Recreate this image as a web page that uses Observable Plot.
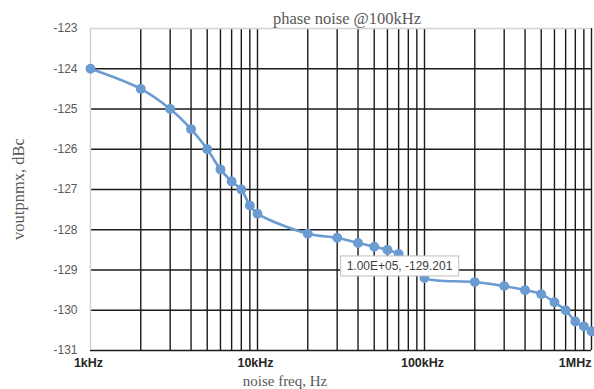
<!DOCTYPE html>
<html>
<head>
<meta charset="utf-8">
<script src="https://cdn.jsdelivr.net/npm/d3@7"></script>
<script src="https://cdn.jsdelivr.net/npm/@observablehq/plot@0.6"></script>
<style>
  html, body { margin: 0; padding: 0; background: #fff; }
  #chart { width: 594px; height: 389px; }
</style>
</head>
<body>
<div id="chart"></div>
<script>
// ---- data ----
const freqs = [1e3, 2e3, 3e3, 4e3, 5e3, 6e3, 7e3, 8e3, 9e3, 1e4,
               2e4, 3e4, 4e4, 5e4, 6e4, 7e4, 8e4, 9e4, 1e5,
               2e5, 3e5, 4e5, 5e5, 6e5, 7e5, 8e5, 9e5, 1e6];
const noise = [-124.0, -124.5, -125.0, -125.5, -126.0, -126.5, -126.8, -127.0, -127.4, -127.6,
               -128.1, -128.2, -128.33, -128.42, -128.5, -128.6, -128.8, -129.0, -129.201,
               -129.3, -129.4, -129.5, -129.6, -129.8, -130.0, -130.28, -130.4, -130.52];
const yTicks = [-131, -130, -129, -128, -127, -126, -125, -124, -123];
const xGrid = [2e3, 3e3, 4e3, 5e3, 6e3, 7e3, 8e3, 9e3, 1e4,
               2e4, 3e4, 4e4, 5e4, 6e4, 7e4, 8e4, 9e4, 1e5,
               2e5, 3e5, 4e5, 5e5, 6e5, 7e5, 8e5, 9e5, 1e6];
const xTickValues = [1e3, 1e4, 1e5];
const xTickLabels = ["1kHz", "10kHz", "100kHz"];
const xLastTick = [1e6];
const xLastLabel = ["1MHz"];
const annotation = [{x: 1e5, y: -129.201, label: "1.00E+05, -129.201"}];
const title = "phase noise @100kHz";
const xLabel = "noise freq, Hz";
const yLabel = "voutpnmx, dBc";

const data = freqs.map((f, i) => ({f, v: noise[i]}));
const lineColor = "#6a9bd1";
const gridColor = "#1a1a1a";
const serif = "'Liberation Serif', 'DejaVu Serif', serif";
const sans = "'Liberation Sans', Arial, sans-serif";

const plot = Plot.plot({
  width: 594,
  height: 389,
  marginLeft: 90,
  marginRight: 3,
  marginTop: 28,
  marginBottom: 39,
  style: {fontFamily: sans, background: "#fff", overflow: "visible"},
  x: {type: "log", domain: [1e3, 1e6]},
  y: {domain: [-131, -123]},
  marks: [
    Plot.ruleY(yTicks.filter(d => d < -123), {stroke: gridColor, strokeWidth: 1.4}),
    Plot.ruleX(xGrid, {y1: -131, y2: -123, stroke: gridColor, strokeWidth: 1.4}),
    Plot.ruleY([-123], {stroke: "#d4d4d4", strokeWidth: 1.4}),
    Plot.ruleX([1e3], {y1: -131, y2: -123, stroke: "#cfcfcf", strokeWidth: 1.4}),
    Plot.axisY({ticks: yTicks, tickSize: 0, tickPadding: 13, tickFormat: d => String(d),
                fontSize: 12, fill: "#595959", label: null}),
    Plot.axisX({ticks: xTickValues, tickSize: 0, tickPadding: 8, dx: -2,
                tickFormat: d => xTickLabels[xTickValues.indexOf(d)],
                fontSize: 12.5, fontWeight: "bold", fill: "#262626", label: null}),
    Plot.axisX({ticks: xLastTick, tickSize: 0, tickPadding: 8, textAnchor: "end", dx: 0,
                tickFormat: d => xLastLabel[xLastTick.indexOf(d)],
                fontSize: 12.5, fontWeight: "bold", fill: "#262626", label: null}),
    Plot.line(data, {x: "f", y: "v", stroke: lineColor, strokeWidth: 2.6, curve: "catmull-rom"}),
    Plot.dot(data, {x: "f", y: "v", r: 4.2, fill: lineColor, stroke: lineColor}),
    Plot.text(annotation, {x: "x", y: "y", text: "label", dx: -25, dy: -12,
                           fontSize: 12, fill: "#404040", className: "dlabel"})
  ]
});

document.getElementById("chart").appendChild(plot);

plot.querySelectorAll(".dlabel text").forEach(t => {
  const b = t.getBBox();
  const padX = 6, padY = 3;
  const r = document.createElementNS("http://www.w3.org/2000/svg", "rect");
  r.setAttribute("x", b.x - padX);
  r.setAttribute("y", b.y - padY);
  r.setAttribute("width", b.width + 2 * padX);
  r.setAttribute("height", b.height + 2 * padY);
  r.setAttribute("fill", "#ffffff");
  r.setAttribute("stroke", "#bfbfbf");
  r.setAttribute("stroke-width", "1");
  const tr = t.getAttribute("transform");
  if (tr) r.setAttribute("transform", tr);
  t.parentNode.insertBefore(r, t);
});

const svg = d3.select(plot);
svg.append("text").text(title)
  .attr("x", 347).attr("y", 24).attr("text-anchor", "middle")
  .attr("font-family", serif).attr("font-size", 16.5).attr("fill", "#595959");
svg.append("text").text(xLabel)
  .attr("x", 285).attr("y", 385.5).attr("text-anchor", "middle")
  .attr("font-family", serif).attr("font-size", 15).attr("fill", "#595959");
svg.append("text").text(yLabel)
  .attr("transform", "translate(24,189) rotate(-90)").attr("text-anchor", "middle")
  .attr("font-family", serif).attr("font-size", 16.5).attr("fill", "#595959");
</script>
</body>
</html>
